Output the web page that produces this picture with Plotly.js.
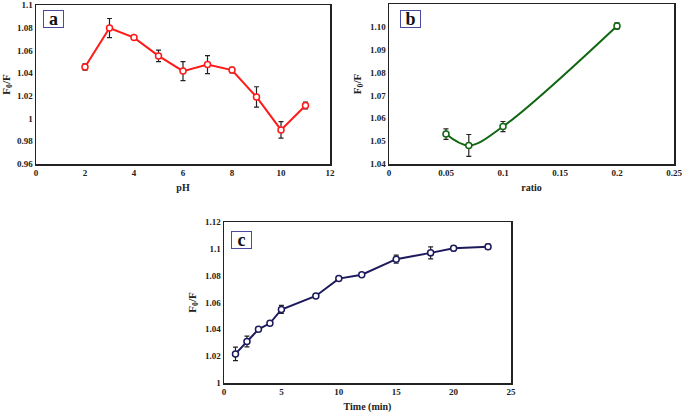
<!DOCTYPE html>
<html><head><meta charset="utf-8">
<script src="https://cdn.plot.ly/plotly-3.0.1.min.js"></script>
<style>html,body{margin:0;padding:0;background:#fff;}#chart{width:685px;height:415px;}</style>
</head><body><div id="chart"></div>
<script>
// Panel a: pH
const phX = [2, 3, 4, 5, 6, 7, 8, 9, 10, 11];
const phY = [1.0454, 1.0797, 1.0713, 1.0552, 1.0418, 1.0475, 1.0427, 1.0190, 0.9900, 1.0115];
const phErr = [0.0027, 0.0084, 0.0010, 0.0050, 0.0084, 0.0080, 0.0025, 0.0090, 0.0073, 0.0030];
// Panel b: ratio
const ratioX = [0.05, 0.07, 0.1, 0.2];
const ratioY = [1.0531, 1.0481, 1.0564, 1.1004];
const ratioErr = [0.0023, 0.0048, 0.0022, 0.0014];
// Panel c: time
const timeX = [1, 2, 3, 4, 5, 8, 10, 12, 15, 18, 20, 23];
const timeY = [1.0217, 1.0309, 1.0400, 1.0445, 1.0548, 1.0649, 1.0778, 1.0807, 1.0923, 1.0970, 1.1005, 1.1015];
const timeErr = [0.0050, 0.0040, 0.0010, 0.0015, 0.0030, 0.0008, 0.0015, 0.0008, 0.0030, 0.0045, 0.0020, 0.0020];

const W = 685, H = 415;
const fx = (a, b) => [a / W, b / W];
const fy = (top, bot) => [1 - bot / H, 1 - top / H];
const serif = 'Liberation Serif';

function trace(x, y, e, color, xa, ya, shape) {
  return {
    x: x, y: y, xaxis: xa, yaxis: ya, type: 'scatter', mode: 'lines+markers',
    line: {color: color, width: 2, shape: shape || 'linear', smoothing: 1},
    marker: {symbol: 'circle', size: 6, color: '#ffffff', line: {color: color, width: 1.5}},
    error_y: {type: 'data', array: e, visible: true, color: '#222', thickness: 1.2, width: 2.5},
    showlegend: false, cliponaxis: false
  };
}

function xax(domain, range, dtick, title, anchor) {
  return {
    domain: domain, range: range, dtick: dtick, tick0: 0, anchor: anchor,
    showgrid: false, zeroline: false, showline: true, mirror: true,
    linecolor: '#222', linewidth: 1.5, ticks: '',
    tickfont: {family: serif, size: 9, color: '#222', weight: 'bold'},
    title: {text: title, font: {family: serif, size: 10, color: '#222', weight: 'bold'}, standoff: 6}
  };
}
function yax(domain, range, dtick, anchor, fmt) {
  const o = {
    domain: domain, range: range, dtick: dtick, anchor: anchor,
    showgrid: false, zeroline: false, showline: true, mirror: true,
    linecolor: '#222', linewidth: 1.5, ticks: '',
    tickfont: {family: serif, size: 9, color: '#222', weight: 'bold'},
    title: {text: 'F<sub>0</sub>/F', font: {family: serif, size: 11, color: '#222', weight: 'bold'}, standoff: 6}
  };
  if (fmt) o.tickformat = fmt;
  return o;
}

const data = [
  trace(phX, phY, phErr, '#ff1a1a', 'x', 'y'),
  trace(ratioX, ratioY, ratioErr, '#116611', 'x2', 'y2', 'spline'),
  trace(timeX, timeY, timeErr, '#1c1a5c', 'x3', 'y3')
];

function labelBox(t, x, y) {
  return {
    text: t, xref: 'paper', yref: 'paper', x: x / W, y: 1 - y / H,
    xanchor: 'center', yanchor: 'middle', showarrow: false,
    font: {family: serif, size: 18, color: '#111', weight: 'bold'},
    bordercolor: '#4a4aa0', borderwidth: 1, bgcolor: '#fff', borderpad: 0, width: 19, height: 16
  };
}

const layout = {
  width: W, height: H, margin: {l: 0, r: 0, t: 0, b: 0},
  paper_bgcolor: '#fff', plot_bgcolor: '#fff', showlegend: false,
  font: {family: serif},
  xaxis: xax(fx(36, 330), [0, 12], 2, 'pH', 'y'),
  yaxis: yax(fy(5, 164), [0.96, 1.1], 0.02, 'x'),
  xaxis2: xax(fx(389, 674), [0, 0.25], 0.05, 'ratio', 'y2'),
  yaxis2: yax(fy(4, 164), [1.04, 1.11], 0.01, 'x2', '.2f'),
  xaxis3: xax(fx(224, 511), [0, 25], 5, 'Time (min)', 'y3'),
  yaxis3: yax(fy(222, 383), [1, 1.12], 0.02, 'x3'),
  annotations: [labelBox('a', 53, 19), labelBox('b', 410, 19), labelBox('c', 241, 240)]
};

Plotly.newPlot('chart', data, layout, {displayModeBar: false, staticPlot: true});
</script>
</body></html>
